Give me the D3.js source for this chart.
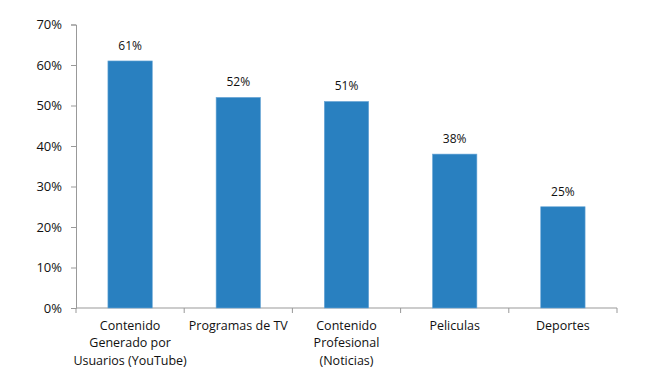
<!DOCTYPE html>
<html lang="es">
<head>
  <meta charset="UTF-8">
  <title>Contenido</title>
  <script src="https://d3js.org/d3.v7.min.js"></script>
  <style>
    body { margin: 0; background: #fff; }
    text { font-family: "Open Sans", "Noto Sans", sans-serif; fill: #111; }
  </style>
</head>
<body>
  <div id="chart"></div>
  <script>
    const categories = [
      ['Contenido', 'Generado por', 'Usuarios (YouTube)'],
      ['Programas de TV'],
      ['Contenido', 'Profesional', '(Noticias)'],
      ['Peliculas'],
      ['Deportes']
    ]
    const values = [61, 52, 51, 38, 25]
    const yTicks = [0, 10, 20, 30, 40, 50, 60, 70]

    const width = 656, height = 391
    const margin = { top: 24.5, right: 39, bottom: 83, left: 76 }

    const svg = d3.select('#chart')
                  .append('svg')
                  .attr('width', width)
                  .attr('height', height)

    const keys = categories.map((c, i) => i)
    const xScale = d3.scaleBand()
                     .domain(keys)
                     .range([margin.left, width - margin.right])
                     .paddingInner(0.59)
                     .paddingOuter(0.295)
    const yScale = d3.scaleLinear()
                     .domain([0, 70])
                     .range([height - margin.bottom, margin.top])

    // y axis
    const yAxis = svg.append('g')
      .attr('transform', `translate(${margin.left},0)`)
      .call(d3.axisLeft(yScale).tickValues(yTicks).tickFormat(d => d + '%').tickSize(5).tickPadding(9))
    yAxis.selectAll('path, line').attr('stroke', '#999')
    yAxis.selectAll('text').style('font-size', '13px').attr('fill', '#111')

    // x axis line with ticks at band borders
    const y0 = yScale(0)
    const xAxis = svg.append('g')
    xAxis.append('line')
      .attr('x1', margin.left).attr('x2', width - margin.right)
      .attr('y1', y0).attr('y2', y0)
      .attr('stroke', '#999')
    const step = xScale.step()
    const borders = keys.concat([keys.length]).map(i => margin.left + i * (width - margin.left - margin.right) / keys.length)
    xAxis.selectAll('line.tick')
      .data(borders)
      .enter()
      .append('line')
      .attr('class', 'tick')
      .attr('x1', d => d).attr('x2', d => d)
      .attr('y1', y0).attr('y2', y0 + 5)
      .attr('stroke', '#999')

    // bars
    svg.selectAll('rect.bar')
      .data(values)
      .enter()
      .append('rect')
      .attr('class', 'bar')
      .attr('x', (d, i) => xScale(i))
      .attr('y', d => yScale(d))
      .attr('width', xScale.bandwidth())
      .attr('height', d => y0 - yScale(d))
      .attr('fill', '#2980c0')
      .attr('stroke', '#6aa6d6')
      .attr('stroke-width', 0.6)

    // value labels
    svg.selectAll('text.value')
      .data(values)
      .enter()
      .append('text')
      .attr('class', 'value')
      .attr('x', (d, i) => xScale(i) + xScale.bandwidth() / 2)
      .attr('y', d => yScale(d) - 11)
      .attr('text-anchor', 'middle')
      .style('font-size', '12px')
      .text(d => d + '%')

    // category labels
    categories.forEach((lines, i) => {
      const t = svg.append('text')
        .attr('x', xScale(i) + xScale.bandwidth() / 2)
        .attr('y', y0 + 22)
        .attr('text-anchor', 'middle')
        .style('font-size', '12.5px')
      lines.forEach((l, j) => {
        t.append('tspan')
          .attr('x', xScale(i) + xScale.bandwidth() / 2)
          .attr('dy', j === 0 ? 0 : 17.3)
          .text(l)
      })
    })
  </script>
</body>
</html>
